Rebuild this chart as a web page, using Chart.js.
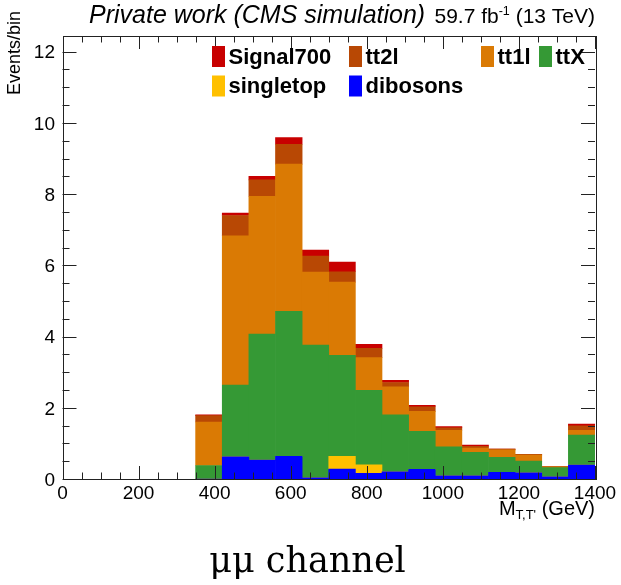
<!DOCTYPE html>
<html>
<head>
<meta charset="utf-8">
<script src="https://cdn.jsdelivr.net/npm/chart.js@4.4.1/dist/chart.umd.min.js"></script>
<style>
  html, body { margin: 0; padding: 0; background: #fff; }
  #wrap { width: 621px; height: 585px; }
</style>
</head>
<body>
<div id="wrap"><canvas id="mttChart"></canvas></div>
<script>
// M_TT' spectrum, 70 GeV bins from 350 to 1400 GeV
const binCenters = [385, 455, 525, 595, 665, 735, 805, 875, 945, 1015, 1085, 1155, 1225, 1295, 1365];

const dibosons  = [0, 0.62, 0.53, 0.64, 0.03, 0.28, 0.16, 0.20, 0.27, 0.09, 0.09, 0.19, 0.17, 0.06, 0.39];
const singletop = [0, 0, 0, 0, 0, 0.36, 0.24, 0, 0, 0, 0, 0, 0, 0, 0];
const ttX       = [0.38, 2.02, 3.54, 4.07, 3.73, 2.83, 2.09, 1.60, 1.07, 0.81, 0.66, 0.42, 0.33, 0.26, 0.84];
const tt1l      = [1.22, 4.19, 3.87, 4.13, 2.05, 2.06, 0.92, 0.79, 0.56, 0.47, 0.12, 0.21, 0.17, 0.02, 0.14];
const tt2l      = [0.18, 0.57, 0.46, 0.56, 0.45, 0.29, 0.26, 0.12, 0.13, 0.07, 0.05, 0.02, 0.02, 0.01, 0.12];
const signal700 = [0.02, 0.07, 0.10, 0.19, 0.17, 0.27, 0.11, 0.06, 0.04, 0.03, 0.03, 0, 0, 0, 0.05];

const xTicks = [0, 200, 400, 600, 800, 1000, 1200, 1400];
const yTicks = [0, 2, 4, 6, 8, 10, 12];

const colors = {
  dibosons: "rgb(0, 0, 255)",
  singletop: "rgb(255, 192, 0)",
  ttX: "rgb(53, 153, 53)",
  tt1l: "rgb(218, 122, 4)",
  tt2l: "rgb(184, 72, 4)",
  Signal700: "rgb(200, 0, 0)",
};

const toPoints = (values) => values.map((v, i) => ({ x: binCenters[i], y: v }));

const makeSet = (label, values) => ({
  label: label,
  data: toPoints(values),
  backgroundColor: colors[label],
  borderWidth: 0,
  barPercentage: 1,
  categoryPercentage: 1,
});

// stacking order: first dataset sits at the bottom
const datasets = [
  makeSet("dibosons", dibosons),
  makeSet("singletop", singletop),
  makeSet("ttX", ttX),
  makeSet("tt1l", tt1l),
  makeSet("tt2l", tt2l),
  makeSet("Signal700", signal700),
];

// legend rows as they are laid out above the histogram
const legendRows = [
  [["Signal700", 212], ["tt2l", 349], ["tt1l", 481], ["ttX", 539]],
  [["singletop", 212], ["dibosons", 349]],
];

const SANS = "'Liberation Sans', Arial, sans-serif";

// draws a run of [text, size, dy, style] pieces starting at x
const drawRuns = (ctx, x, y, runs) => {
  runs.forEach(([txt, size, dy, style]) => {
    ctx.font = `${style || ""} ${size}px ${SANS}`;
    ctx.fillText(txt, x, y + dy);
    x += ctx.measureText(txt).width;
  });
  return x;
};
const runsWidth = (ctx, runs) => {
  let w = 0;
  runs.forEach(([txt, size, dy, style]) => {
    ctx.font = `${style || ""} ${size}px ${SANS}`;
    w += ctx.measureText(txt).width;
  });
  return w;
};

const rootFrame = {
  id: "rootFrame",
  afterDatasetsDraw(chart) {
    const { ctx, chartArea: a, scales } = chart;
    const xs = scales.x;
    const ys = scales.y;
    ctx.save();
    ctx.strokeStyle = "#222";
    ctx.lineWidth = 1;
    ctx.strokeRect(Math.round(a.left) + 0.5, Math.round(a.top) + 0.5,
      Math.round(a.right - a.left), Math.round(a.bottom - a.top));

    // x ticks on bottom and top, pointing inwards
    ctx.beginPath();
    for (let v = 0; v <= 1400; v += 50) {
      const px = Math.round(xs.getPixelForValue(v)) + 0.5;
      const len = v % 200 === 0 ? 13 : 6.5;
      ctx.moveTo(px, a.bottom); ctx.lineTo(px, a.bottom - len);
      ctx.moveTo(px, a.top); ctx.lineTo(px, a.top + len);
    }
    // y ticks on left and right
    for (let v = 0; v <= ys.max; v += 0.5) {
      const py = Math.round(ys.getPixelForValue(v)) + 0.5;
      const len = v % 2 === 0 ? 14 : 7;
      ctx.moveTo(a.left, py); ctx.lineTo(a.left + len, py);
      ctx.moveTo(a.right, py); ctx.lineTo(a.right - len, py);
    }
    ctx.stroke();

    ctx.fillStyle = "#000";
    ctx.font = `19px ${SANS}`;
    ctx.textAlign = "center";
    ctx.textBaseline = "alphabetic";
    xTicks.forEach((t) => ctx.fillText(String(t), xs.getPixelForValue(t), 499));
    ctx.textAlign = "right";
    yTicks.forEach((t) => ctx.fillText(String(t), 55, ys.getPixelForValue(t) + 6.8));

    // axis titles
    ctx.textAlign = "left";
    const xTitle = [["M", 20, 0], ["T,T'", 13, 4], [" (GeV)", 20, 0]];
    drawRuns(ctx, a.right - runsWidth(ctx, xTitle), 515, xTitle);

    ctx.save();
    ctx.translate(19.5, 11);
    ctx.rotate(-Math.PI / 2);
    ctx.textAlign = "right";
    ctx.font = `18px ${SANS}`;
    ctx.fillText("Events/bin", 0, 0);
    ctx.restore();

    // header
    ctx.textAlign = "left";
    drawRuns(ctx, 89, 23, [["Private work (CMS simulation)", 25, 0, "italic"]]);
    const lumi = [["59.7 fb", 21, 0], ["-1", 12.5, -8], [" (13 TeV)", 21, 0]];
    drawRuns(ctx, a.right - runsWidth(ctx, lumi), 23, lumi);

    // legend
    legendRows.forEach((row, r) => {
      const top = 46 + r * 29.5;
      row.forEach(([name, bx]) => {
        ctx.fillStyle = colors[name];
        ctx.fillRect(bx, top, 13, 21);
        ctx.fillStyle = "#000";
        ctx.font = `bold 22px ${SANS}`;
        ctx.fillText(name, bx + 16.5, top + 17.5);
      });
    });

    // channel caption
    ctx.textAlign = "center";
    ctx.font = "35px 'DejaVu Serif', serif";
    ctx.fillText("μμ channel", 307.5, 572);
    ctx.restore();
  },
};

const config = {
  type: "bar",
  data: { datasets: datasets },
  options: {
    animation: false,
    responsive: true,
    maintainAspectRatio: false,
    devicePixelRatio: 1,
    layout: { padding: { left: 62.5, right: 26, top: 36, bottom: 106 } },
    plugins: {
      legend: { display: false },
      tooltip: { enabled: false },
    },
    scales: {
      x: { type: "linear", min: 0, max: 1400, offset: false, stacked: true, display: false },
      y: { min: 0, max: 12.44, stacked: true, display: false },
    },
  },
  plugins: [rootFrame],
};

const chart = new Chart(document.getElementById("mttChart"), config);
</script>
</body>
</html>
